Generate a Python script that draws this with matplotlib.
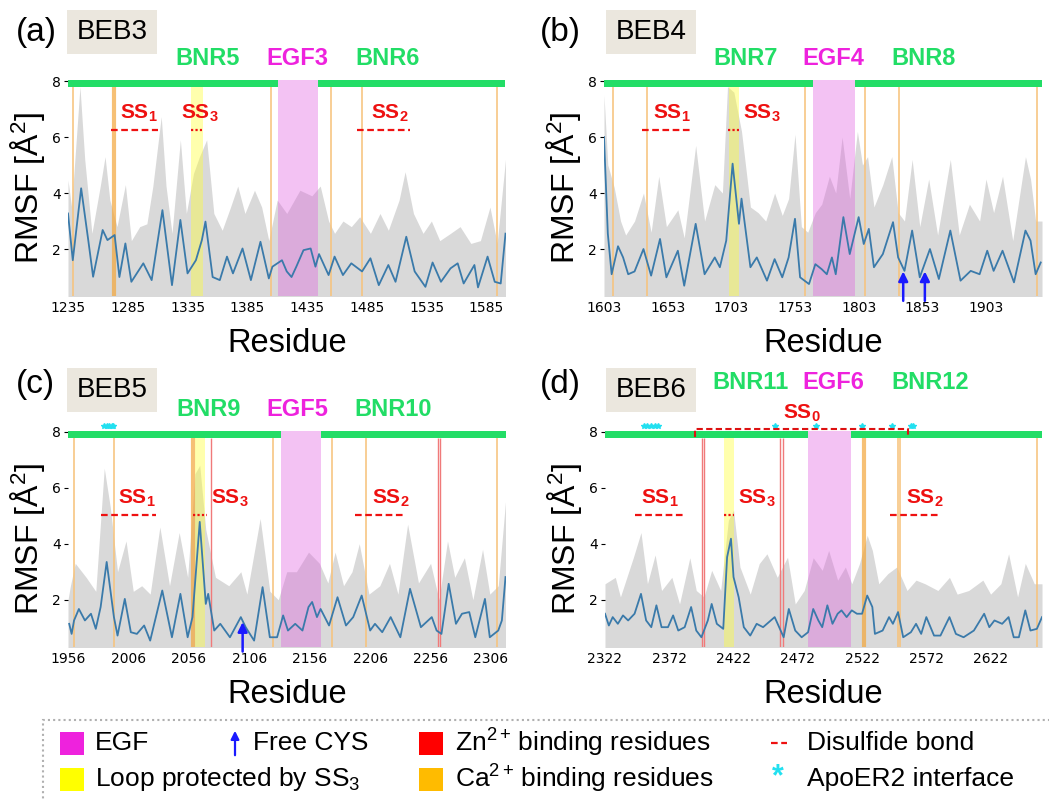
#!/usr/bin/env python3

import matplotlib
matplotlib.use('Agg')
import matplotlib.pyplot as plt
from matplotlib.patches import Rectangle, FancyArrowPatch
from matplotlib.lines import Line2D

plt.rcParams['font.family'] = ['Liberation Sans', 'DejaVu Sans']
plt.rcParams['mathtext.fontset'] = 'custom'
plt.rcParams['mathtext.rm'] = 'Liberation Sans'
plt.rcParams['mathtext.bf'] = 'Liberation Sans:bold'
plt.rcParams['mathtext.it'] = 'Liberation Sans:italic'

# ---------------- data ----------------
# (a) BEB3
a_res = [1235, 1239, 1246, 1252, 1256, 1264, 1268, 1274, 1278, 1283, 1288, 1298, 1305, 1314, 1322,
         1329, 1335, 1342, 1347, 1350, 1356, 1362, 1368, 1373, 1381, 1388, 1396, 1403, 1406, 1414,
         1418, 1422, 1426, 1432, 1438, 1442, 1445, 1453, 1458, 1465, 1472, 1481, 1488, 1495, 1503,
         1509, 1518, 1525, 1534, 1540, 1547, 1555, 1561, 1566, 1575, 1578, 1586, 1592, 1597, 1601]
a_rmsf = [3.27, 1.6, 4.17, 2.3, 1.01, 2.68, 2.32, 2.5, 1.0, 2.2, 0.83, 1.49, 0.89, 3.39, 0.71,
          3.04, 1.13, 1.6, 2.32, 2.98, 1.0, 0.89, 1.73, 1.13, 2.02, 0.89, 2.26, 0.95, 1.37, 1.6,
          1.2, 1.0, 1.37, 1.96, 2.02, 1.37, 1.82, 1.07, 1.73, 1.07, 1.49, 1.2, 1.67, 0.71, 1.43,
          0.83, 2.44, 1.2, 0.65, 1.52, 0.83, 1.31, 1.49, 0.77, 1.43, 0.63, 1.73, 0.83, 0.77, 2.55]
a_grey_res = [1235, 1238, 1245, 1249, 1255, 1262, 1266, 1270, 1276, 1283, 1288, 1295, 1301, 1306,
              1313, 1317, 1322, 1329, 1334, 1340, 1345, 1351, 1357, 1364, 1371, 1377, 1383, 1391,
              1397, 1403, 1410, 1418, 1429, 1439, 1446, 1453, 1458, 1465, 1472, 1479, 1488, 1496,
              1503, 1512, 1517, 1524, 1532, 1539, 1546, 1555, 1563, 1572, 1580, 1588, 1594, 1601]
a_grey = [4.46, 3.5, 7.8, 5.2, 2.56, 4.25, 5.3, 3.75, 2.8, 4.3, 2.3, 2.8, 2.9, 4.25,
          6.73, 4.25, 2.56, 5.9, 3.27, 4.7, 5.3, 5.9, 3.27, 2.67, 3.5, 4.25, 3.27, 4.1,
          3.5, 2.3, 3.75, 3.27, 4.1, 3.9, 4.25, 3.0, 2.56, 3.0, 2.8, 3.15, 2.56, 3.27,
          2.67, 3.75, 4.76, 3.27, 2.56, 3.0, 2.3, 2.56, 2.8, 2.2, 2.3, 3.5, 2.2, 5.2]
a_range = (1235, 1601)
a_egf = (1411, 1444.5)
a_loop = (1338, 1348)
a_ca = [1239, 1405, 1455, 1481, 1594]
a_ca_strong = [1273.5]
a_zn = []
a_free_cys = []
a_apoer2 = []
a_ss_lines = [(1271, 1310), (1338, 1347), (1477, 1521)]
a_ss_names = ['1', '3', '2']
a_ss_label_x = [1294, 1345, 1504.5]
a_domains = ['BNR5', 'EGF3', 'BNR6']
a_domain_x = [1352, 1427, 1502]

# (b) BEB4
b_res = [1603, 1606, 1609, 1614, 1618, 1622, 1627, 1634, 1640, 1647, 1652, 1661, 1666, 1675, 1682,
         1690, 1694, 1699, 1704, 1709, 1711, 1718, 1723, 1731, 1737, 1743, 1748, 1753, 1757, 1764,
         1769, 1774, 1778, 1782, 1785, 1791, 1796, 1803, 1807, 1811, 1815, 1822, 1830, 1834, 1839,
         1845, 1851, 1859, 1866, 1875, 1883, 1891, 1898, 1904, 1909, 1916, 1925, 1934, 1938, 1942,
         1946]
b_rmsf = [6.0, 2.55, 1.1, 2.1, 1.7, 1.1, 1.2, 2.0, 1.05, 2.36, 0.99, 1.94, 0.69, 2.9, 1.1,
          1.7, 1.35, 2.3, 5.05, 2.9, 3.8, 1.35, 1.7, 0.87, 1.64, 0.99, 1.7, 3.08, 0.99, 0.75,
          1.46, 1.28, 1.1, 1.7, 1.1, 3.14, 1.82, 3.14, 2.18, 2.72, 1.35, 1.82, 2.96, 1.7, 1.22,
          2.66, 0.99, 2.0, 0.93, 2.66, 0.87, 1.22, 1.1, 1.94, 1.22, 1.94, 0.81, 2.66, 2.3, 1.1,
          1.52]
b_grey_res = [1603, 1606, 1611, 1616, 1620, 1627, 1634, 1640, 1646, 1652, 1661, 1666, 1675, 1682,
              1690, 1696, 1700, 1705, 1711, 1718, 1724, 1730, 1737, 1743, 1748, 1753, 1758, 1763,
              1769, 1774, 1780, 1785, 1790, 1796, 1802, 1806, 1810, 1815, 1822, 1829, 1834, 1839,
              1845, 1851, 1858, 1865, 1875, 1882, 1890, 1898, 1903, 1909, 1916, 1924, 1934, 1938,
              1942, 1947]
b_grey = [7.5, 5.0, 4.2, 3.0, 2.5, 3.0, 4.0, 2.6, 4.6, 2.8, 3.4, 2.4, 5.7, 3.0,
          4.3, 4.0, 7.8, 7.6, 6.2, 3.5, 3.3, 3.0, 4.0, 3.2, 3.8, 6.1, 2.8, 2.6,
          3.3, 3.6, 4.6, 4.0, 6.0, 3.8, 6.2, 5.0, 5.3, 3.5, 4.3, 5.3, 3.3, 3.0,
          5.2, 2.8, 4.5, 2.5, 5.2, 2.5, 3.6, 3.0, 4.5, 3.3, 4.6, 2.3, 5.3, 4.5,
          3.0, 3.0]
b_range = (1603, 1947)
b_egf = (1767.4, 1800.2)
b_loop = (1701.4, 1709)
b_ca = [1610, 1636.5, 1761, 1808, 1835, 1943]
b_ca_strong = []
b_zn = []
b_free_cys = [1838, 1855]
b_apoer2 = []
b_ss_lines = [(1632.6, 1672), (1700.7, 1709)]
b_ss_names = ['1', '3']
b_ss_label_x = [1656, 1727]
b_domains = ['BNR7', 'EGF4', 'BNR8']
b_domain_x = [1714, 1783, 1854]

# (c) BEB5
c_res = [1957, 1959, 1961, 1965, 1970, 1975, 1979, 1983, 1988, 1994, 1997, 2003, 2008, 2013, 2019,
         2024, 2034, 2042, 2049, 2055, 2059, 2065, 2070, 2072, 2077, 2082, 2090, 2099, 2103, 2110,
         2117, 2123, 2129, 2134, 2138, 2144, 2150, 2155, 2158, 2162, 2165, 2172, 2179, 2186, 2192,
         2199, 2206, 2210, 2216, 2223, 2231, 2239, 2248, 2257, 2261, 2265, 2271, 2277, 2282, 2288,
         2293, 2301, 2305, 2312, 2315, 2318]
c_rmsf = [1.14, 0.78, 1.26, 1.67, 1.26, 1.5, 0.96, 1.74, 3.35, 1.38, 0.72, 2.03, 0.84, 0.78, 1.08,
          0.54, 2.33, 0.66, 2.21, 0.66, 1.38, 4.78, 1.85, 2.21, 0.9, 1.14, 0.66, 1.38, 1.02, 0.54,
          2.45, 0.66, 0.66, 1.44, 0.9, 1.14, 0.9, 1.74, 1.92, 1.38, 1.67, 1.08, 2.09, 1.08, 1.38,
          2.15, 0.9, 1.14, 0.84, 1.38, 0.66, 2.39, 1.02, 1.38, 0.9, 0.78, 2.57, 1.14, 1.5, 1.56,
          0.66, 2.03, 0.66, 0.9, 1.26, 2.81]
c_grey_res = [1956, 1958, 1962, 1971, 1979, 1986, 1991, 1997, 2004, 2010, 2017, 2024, 2032, 2040,
              2048, 2055, 2061, 2065, 2070, 2078, 2089, 2099, 2104, 2115, 2123, 2130, 2137, 2145,
              2155, 2164, 2171, 2177, 2184, 2191, 2197, 2205, 2214, 2222, 2229, 2237, 2246, 2256,
              2263, 2270, 2276, 2284, 2291, 2299, 2305, 2312, 2318]
c_grey = [2.0, 2.5, 3.3, 2.8, 2.3, 6.7, 5.3, 3.0, 4.1, 2.3, 2.5, 2.2, 4.6, 2.5,
          4.4, 2.8, 6.5, 6.8, 4.5, 2.8, 2.5, 3.0, 2.2, 4.9, 2.3, 2.0, 3.0, 3.0,
          3.7, 3.3, 2.6, 3.7, 2.5, 3.0, 4.0, 2.2, 2.5, 3.3, 2.2, 4.7, 2.6, 3.3,
          2.0, 4.1, 2.8, 3.5, 2.0, 3.8, 2.2, 2.5, 5.5]
c_range = (1956, 2318)
c_egf = (2132.2, 2165.3)
c_loop = (2061.4, 2069.6)
c_ca = [1961, 1994, 2125.6, 2174.4, 2202.6, 2311]
c_ca_strong = [2059.4]
c_zn = [2074.3, 2262, 2264]
c_free_cys = [2100.5]
c_apoer2 = [1986, 1988, 1990, 1992, 1993.5]
c_ss_lines = [(1983, 2029), (2059.4, 2071), (2193.7, 2236)]
c_ss_names = ['1', '3', '2']
c_ss_label_x = [2013, 2090, 2223]
c_domains = ['BNR9', 'EGF5', 'BNR10']
c_domain_x = [2072, 2146, 2225]

# (d) BEB6
d_res = [2322, 2325, 2328, 2332, 2336, 2340, 2345, 2350, 2354, 2358, 2362, 2366, 2371, 2375, 2379,
         2384, 2389, 2393, 2397, 2402, 2405, 2409, 2414, 2417, 2420, 2422, 2426, 2430, 2435, 2440,
         2445, 2451, 2454, 2461, 2465, 2470, 2475, 2480, 2484, 2488, 2491, 2495, 2499, 2503, 2506,
         2510, 2514, 2518, 2522, 2526, 2530, 2532, 2538, 2543, 2546, 2550, 2554, 2560, 2564, 2568,
         2572, 2578, 2583, 2590, 2595, 2601, 2609, 2617, 2621, 2625, 2631, 2636, 2640, 2644, 2649,
         2653, 2658, 2662]
d_rmsf = [1.5, 1.08, 1.38, 1.14, 1.44, 1.26, 1.5, 2.21, 1.26, 1.02, 1.8, 1.02, 1.02, 1.44, 0.9,
          1.02, 1.74, 0.9, 0.66, 1.26, 1.85, 1.14, 0.96, 3.52, 4.18, 2.81, 2.09, 1.02, 0.72, 1.14,
          1.02, 1.26, 1.38, 0.66, 1.67, 0.9, 0.66, 0.84, 1.67, 1.26, 1.02, 1.8, 1.14, 1.5, 1.62,
          1.38, 1.62, 1.5, 1.5, 2.15, 1.74, 0.78, 0.9, 1.38, 1.14, 1.56, 0.66, 0.84, 1.14, 0.78,
          1.38, 0.72, 0.72, 1.38, 0.78, 0.66, 0.9, 1.5, 1.02, 1.26, 1.14, 1.38, 0.66, 0.66, 1.62,
          0.9, 0.96, 1.38]
d_grey_res = [2322, 2330, 2334, 2344, 2350, 2355, 2361, 2366, 2374, 2380, 2388, 2393, 2399, 2405,
              2412, 2418, 2422, 2427, 2435, 2442, 2448, 2456, 2464, 2470, 2477, 2484, 2491, 2496,
              2503, 2509, 2514, 2520, 2526, 2530, 2535, 2542, 2549, 2557, 2564, 2571, 2581, 2590,
              2596, 2605, 2616, 2622, 2630, 2636, 2643, 2649, 2656, 2662]
d_grey = [2.57, 2.8, 2.1, 3.5, 4.4, 2.57, 3.6, 2.33, 2.8, 1.85, 3.5, 2.33, 2.1, 3.05,
          2.33, 4.84, 5.2, 3.17, 2.2, 3.29, 3.64, 2.8, 3.52, 1.85, 2.33, 3.5, 3.05, 3.76,
          2.7, 3.17, 2.57, 3.29, 4.3, 3.76, 2.57, 2.93, 3.17, 2.33, 2.7, 2.57, 2.33, 2.8,
          2.2, 2.33, 2.7, 2.2, 2.57, 3.64, 2.1, 3.3, 2.57, 2.57]
d_range = (2322, 2662)
d_egf = (2479.7, 2513.5)
d_loop = (2414.7, 2422)
d_ca = [2549.8, 2551.9, 2658.4]
d_ca_strong = [2523.3]
d_zn = [2397.3, 2399.2, 2458.4, 2460.2]
d_free_cys = []
d_apoer2 = [2352, 2355, 2358, 2361, 2363.5, 2454, 2486.5, 2522, 2545.5, 2560, 2562]
d_ss0 = (2392, 2557.6)
d_ss_lines = [(2345, 2384.4), (2414.2, 2422), (2543.6, 2583)]
d_ss_names = ['1', '3', '2']
d_ss_label_x = [2365, 2440, 2571]
d_domains = ['BNR11', 'EGF6', 'BNR12']
d_domain_x = [2435, 2500, 2575]

# ---------------- styling ----------------
GREEN = '#22dd66'
MAGENTA = '#ee22dd'
RED = '#ee1111'
BLUE_LINE = '#3a7aaa'
GREY = '#d9d9d9'
W, H = 1049, 799
YMIN, YMAX = 0.33, 8.04
BAR_LO = 7.77


def draw_panel(ax, res, rmsf, grey_res, grey, xr, egf, loop, ca, ca_strong, zn, free_cys,
               apoer2, ss_lines, ss_names, ss_label_x, domains, domain_x, ss_y, domain_y):
    ax.set_xlim(*xr)
    ax.set_ylim(YMIN, YMAX)
    ax.fill_between(grey_res, 0, grey, color=GREY, lw=0, zorder=1)

    # Ca2+ / Zn2+ residues, loop protected by SS3, EGF domain
    ax.vlines(ca, YMIN, BAR_LO, color='#f7c27a', lw=1.4, alpha=0.8, zorder=2)
    ax.vlines(ca_strong, YMIN, BAR_LO, color='#f3a63a', lw=3, alpha=0.7, zorder=2)
    ax.vlines(zn, YMIN, BAR_LO, color='#f07a7a', lw=1.0, zorder=2)
    ax.axvspan(loop[0], loop[1], ymax=(BAR_LO - YMIN) / (YMAX - YMIN),
               color='#ffff33', alpha=0.4, lw=0, zorder=2)
    ax.axvspan(egf[0], egf[1], color='#e060e0', alpha=0.38, lw=0, zorder=3)

    # domain bar on top
    ax.broken_barh([(xr[0], egf[0] - xr[0]), (egf[1], xr[1] - egf[1])],
                   (BAR_LO, YMAX - BAR_LO), color=GREEN, lw=0, zorder=4)

    ax.plot(res, rmsf, color=BLUE_LINE, lw=1.3, zorder=5)

    # disulfide bonds
    for (x0, x1), name, lx in zip(ss_lines, ss_names, ss_label_x):
        ls = (0, (1, 1)) if name == '3' else (0, (3, 1.6))
        ax.plot([x0, x1], [ss_y, ss_y], color=RED, lw=1.6, ls=ls, zorder=6)
        ax.text(lx, ss_y + 0.6, r'$\mathbf{SS_%s}$' % name, color=RED, fontsize=15,
                ha='center', va='center', zorder=6)

    for x in free_cys:
        ax.annotate('', xy=(x, 1.2), xytext=(x, 0.15), annotation_clip=False,
                    arrowprops=dict(arrowstyle='-|>', color='#1a1aff', lw=1.8,
                                    mutation_scale=14, shrinkA=0, shrinkB=0), zorder=7)

    if apoer2:
        ax.plot(apoer2, [8.22] * len(apoer2), ls='none', marker='*', ms=4,
                color='#22e0f0', clip_on=False, zorder=7)

    for name, x in zip(domains, domain_x):
        ax.text(x, domain_y, name, color=MAGENTA if name.startswith('EGF') else GREEN,
                fontsize=17, fontweight='bold', ha='center', va='center', clip_on=False)

    for sp in ax.spines.values():
        sp.set_visible(False)
    ax.set_xticks(range(xr[0], xr[1], 50))
    ax.set_yticks([2, 4, 6, 8])
    ax.tick_params(axis='x', length=0, pad=4, labelsize=10)
    ax.tick_params(axis='y', length=3, width=0.8, pad=2, labelsize=10)
    for lab in ax.get_xticklabels() + ax.get_yticklabels():
        lab.set_fontfamily('DejaVu Sans')
    ax.set_xlabel('Residue', fontsize=23.5, labelpad=9)
    ax.set_ylabel('RMSF [Å$^2$]', fontsize=23, labelpad=4)


fig = plt.figure(figsize=(W / 100, H / 100), dpi=100)

top_row = (1 - 295.8 / H, (295.8 - 79.9) / H)
bot_row = (1 - 646.5 / H, (646.5 - 430.6) / H)
ax_a = fig.add_axes([68 / W, top_row[0], 437.5 / W, top_row[1]])
ax_b = fig.add_axes([604 / W, top_row[0], 438 / W, top_row[1]])
ax_c = fig.add_axes([68 / W, bot_row[0], 437.5 / W, bot_row[1]])
ax_d = fig.add_axes([605 / W, bot_row[0], 437 / W, bot_row[1]])

draw_panel(ax_a, a_res, a_rmsf, a_grey_res, a_grey, a_range, a_egf, a_loop, a_ca, a_ca_strong,
           a_zn, a_free_cys, a_apoer2, a_ss_lines, a_ss_names, a_ss_label_x, a_domains,
           a_domain_x, 6.25, 8.81)
draw_panel(ax_b, b_res, b_rmsf, b_grey_res, b_grey, b_range, b_egf, b_loop, b_ca, b_ca_strong,
           b_zn, b_free_cys, b_apoer2, b_ss_lines, b_ss_names, b_ss_label_x, b_domains,
           b_domain_x, 6.25, 8.81)
draw_panel(ax_c, c_res, c_rmsf, c_grey_res, c_grey, c_range, c_egf, c_loop, c_ca, c_ca_strong,
           c_zn, c_free_cys, c_apoer2, c_ss_lines, c_ss_names, c_ss_label_x, c_domains,
           c_domain_x, 5.02, 8.78)
draw_panel(ax_d, d_res, d_rmsf, d_grey_res, d_grey, d_range, d_egf, d_loop, d_ca, d_ca_strong,
           d_zn, d_free_cys, d_apoer2, d_ss_lines, d_ss_names, d_ss_label_x, d_domains,
           d_domain_x, 5.02, 9.74)

# SS0 bond spanning the whole BEB6 module
ax_d.plot([d_ss0[0], d_ss0[0], d_ss0[1], d_ss0[1]], [7.8, 8.1, 8.1, 7.8], color='#dd1111',
          lw=1.5, ls=(0, (3, 1.6)), clip_on=False, zorder=8)
ax_d.text((d_ss0[0] + d_ss0[1]) / 2, 8.66, r'$\mathbf{SS_0}$', color=RED, fontsize=15,
          ha='center', va='center', clip_on=False)

# panel tags and module boxes
for tag, tx, y in [('(a)', 36, 32), ('(b)', 560, 32), ('(c)', 35, 384), ('(d)', 560, 384)]:
    fig.text(tx / W, 1 - y / H, tag, fontsize=24, ha='center', va='center')
for name, bx, y in [('BEB3', 112, 32), ('BEB4', 651, 32), ('BEB5', 112, 390), ('BEB6', 651, 390)]:
    fig.text(bx / W, 1 - y / H, name, fontsize=20, ha='center', va='center',
             bbox=dict(boxstyle='square,pad=0.33', fc='#ebe7de', ec='none'))

# ---------------- legend ----------------
fig.patches.append(Rectangle((43 / W, -0.05), 1.1, (799 - 720) / H + 0.05,
                             transform=fig.transFigure, fill=False, ec='#b0b0b0',
                             ls=(0, (1, 1.5)), lw=1.5))


def legend_patch(x0, y, color):
    fig.patches.append(Rectangle((x0 / W, 1 - (y + 12) / H), 24 / W, 23 / H,
                                 transform=fig.transFigure, fc=color, ec='none'))


def legend_text(x0, y, s):
    fig.text(x0 / W, 1 - y / H, s, fontsize=19, ha='left', va='center')


row1, row2 = 743, 779
legend_patch(60, row1, MAGENTA)
legend_text(95, row1, 'EGF')
fig.add_artist(FancyArrowPatch((235 / W, 1 - 758 / H), (235 / W, 1 - 728 / H),
                               transform=fig.transFigure, arrowstyle='-|>',
                               mutation_scale=12, color='#1a1aff', lw=1.6))
legend_text(253, row1, 'Free CYS')
legend_patch(419, row1, '#ff0000')
legend_text(455, row1, r'Zn$^{2+}\,$binding residues')
fig.add_artist(Line2D([771 / W, 787 / W], [1 - row1 / H, 1 - row1 / H],
                      transform=fig.transFigure, color=RED, lw=1.6, ls=(0, (3, 1.6))))
legend_text(807, row1, 'Disulfide bond')

legend_patch(60, row2, '#ffff00')
legend_text(95, row2, 'Loop protected by SS$_3$')
legend_patch(419, row2, '#ffbb00')
legend_text(455, row2, r'Ca$^{2+}\,$binding residues')
fig.text(778 / W, 1 - (row2 - 2) / H, '*', fontsize=22, color='#22e0f0', ha='center',
         va='center', fontweight='bold')
legend_text(807, row2, 'ApoER2 interface')

fig.savefig('out.png', dpi=100)
